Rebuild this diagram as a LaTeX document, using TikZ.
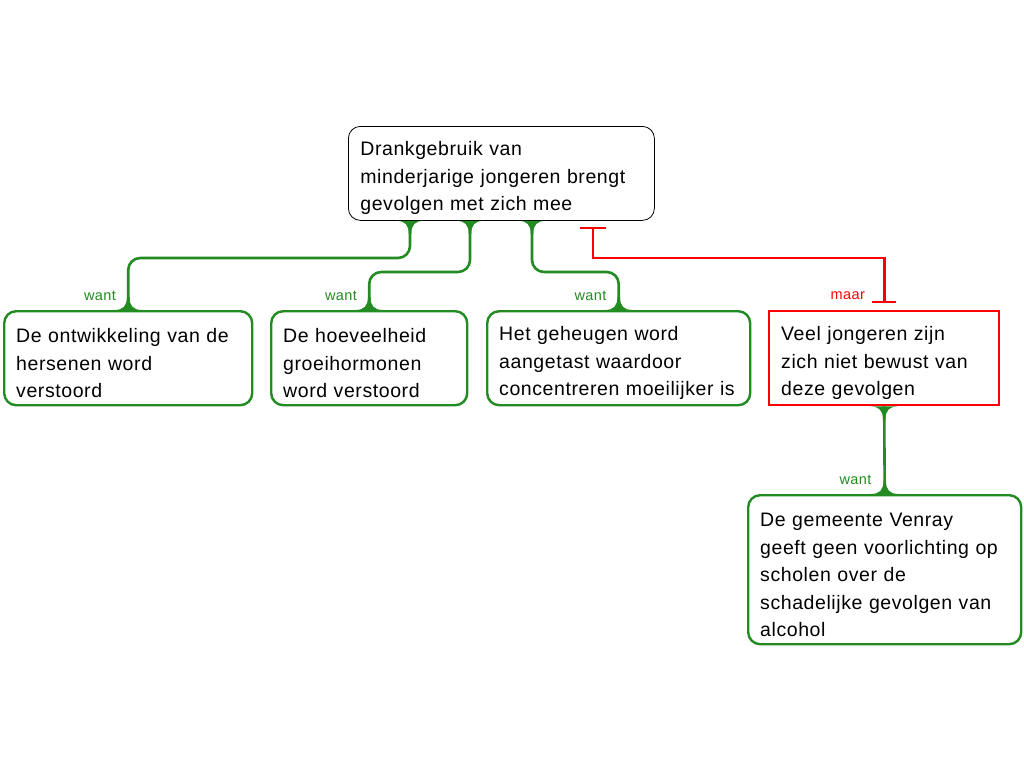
\documentclass[tikz,border=0pt]{standalone}
\usepackage{fontspec}
\setmainfont{Liberation Sans}[LetterSpace=3]
\usetikzlibrary{calc}
\definecolor{argreen}{RGB}{34,139,34}
\definecolor{arred}{RGB}{255,0,0}
\begin{document}
\begin{tikzpicture}[x=1pt,y=-1pt,
  box/.style={anchor=north west, align=left, inner xsep=12pt, inner ysep=4pt,
    font=\fontsize{19.5}{27.5}\selectfont, fill=white},
  claim/.style={box, draw=black, line width=0.8pt, rounded corners=12pt},
  reason/.style={box, draw=argreen, line width=2.4pt, rounded corners=12pt},
  objection/.style={box, draw=arred, line width=2.4pt},
  gline/.style={draw=argreen, line width=2.6pt, rounded corners=12pt},
  rline/.style={draw=arred, line width=2.6pt},
  lab/.style={anchor=east, font=\fontsize{14.5}{15}\selectfont, inner sep=0pt},
  flaredown/.pic={\fill[argreen] (-14,0) .. controls (-5,0) and (-1.3,4) .. (-1.3,13) -- (1.3,13) .. controls (1.3,4) and (5,0) .. (14,0) -- cycle;},
  flareup/.pic={\fill[argreen] (-14,0) .. controls (-5,0) and (-1.3,-4) .. (-1.3,-13) -- (1.3,-13) .. controls (1.3,-4) and (5,0) .. (14,0) -- cycle;}
]
\useasboundingbox[fill=white] (0,0) rectangle (1024,768);
\newcommand\firststrut{\rule{0pt}{24pt}}

% nodes
\node[claim, text width=282pt, minimum height=94pt] (top) at (348,126)
  {\firststrut Drankgebruik van\\minderjarige jongeren brengt\\gevolgen met zich mee};
\node[reason, text width=224pt, minimum height=94pt] (a) at (3,310)
  {\firststrut De ontwikkeling van de\\hersenen word\\verstoord};
\node[reason, text width=172pt, minimum height=94pt] (b) at (270,310)
  {\firststrut De hoeveelheid\\groeihormonen\\word verstoord};
\node[reason, text width=239pt, minimum height=94pt] (c) at (486,310)
  {\firststrut Het geheugen word\\aangetast waardoor\\concentreren moeilijker is};
\node[objection, text width=206pt, minimum height=94pt] (d) at (768,310)
  {\firststrut Veel jongeren zijn\\zich niet bewust van\\deze gevolgen};
\node[reason, text width=249pt, minimum height=149pt] (e) at (747,494)
  {\firststrut De gemeente Venray\\geeft geen voorlichting op\\scholen over de\\schadelijke gevolgen van\\alcohol};

% green connectors
\draw[gline] (top.south -| 410,0) |- (a.north |- 0,258) -- (a.north);
\draw[gline] (top.south -| 470,0) |- (b.north |- 0,272) -- (b.north);
\draw[gline] (top.south -| 532,0) |- (c.north |- 0,272) -- (c.north);
\draw[gline] (d.south) -- (e.north);

\pic at (top.south -| 410,0) {flaredown};
\pic at (top.south -| 470,0) {flaredown};
\pic at (top.south -| 532,0) {flaredown};
\pic at (a.north) {flareup};
\pic at (b.north) {flareup};
\pic at (c.north) {flareup};
\pic at (d.south) {flaredown};
\pic at (e.north) {flareup};

% red objection connector
\coordinate (rb) at ($(d.north)+(0,-8)$);
\coordinate (rt) at ($(top.south -| 593,0)+(0,7)$);
\draw[rline] (rb) |- (rt |- 0,258) -- (rt);
\draw[rline] ($(rb)+(-12,0)$) -- ($(rb)+(12,0)$);
\draw[rline] ($(rt)+(-13,0)$) -- ($(rt)+(13,0)$);

% labels
\node[lab, text=argreen] (la) at ($(a.north)+(-12,-14)$) {want};
\node[lab, text=argreen] (lb) at ($(b.north)+(-12,-14)$) {want};
\node[lab, text=argreen] (lc) at ($(c.north)+(-12,-14)$) {want};
\node[lab, text=arred] (ld) at ($(d.north)+(-19,-14)$) {maar};
\node[lab, text=argreen] (le) at ($(e.north)+(-13,-14)$) {want};
\end{tikzpicture}
\end{document}
